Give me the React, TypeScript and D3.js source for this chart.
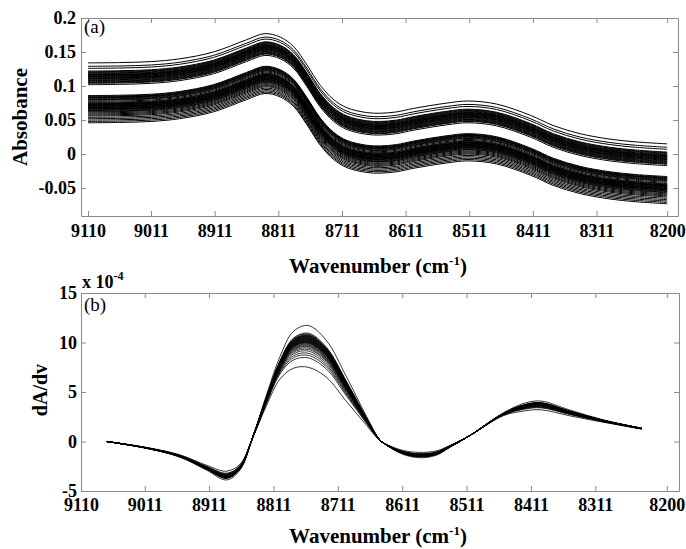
import { useEffect, useRef } from 'react'
import * as d3 from 'd3'

// panel (a): absorbance spectra, uppermost spectrum
const wavenumbers = [9110, 9060, 9010, 8966, 8913, 8861, 8832, 8808, 8787, 8766, 8745, 8724, 8703, 8672, 8651, 8625, 8599, 8546, 8513, 8468, 8415, 8379, 8337, 8290, 8250, 8200]
const topSpectrum = [0.134, 0.1345, 0.136, 0.14, 0.15, 0.168, 0.177, 0.172, 0.158, 0.131, 0.101, 0.08, 0.068, 0.061, 0.06, 0.062, 0.067, 0.075, 0.078, 0.0735, 0.057, 0.042, 0.03, 0.022, 0.018, 0.015]
// baseline offsets of every other spectrum below the uppermost one
const upperGroupOffsets = [0, 0.005, 0.008, 0.012, 0.013, 0.014, 0.015, 0.016, 0.017, 0.0175, 0.018, 0.019, 0.0195, 0.02, 0.021, 0.022, 0.0225, 0.023, 0.024, 0.025, 0.026, 0.027, 0.028, 0.029, 0.03, 0.032]
const lowerGroupOffsets = [0.048, 0.049, 0.05, 0.0505, 0.051, 0.052, 0.053, 0.054, 0.055, 0.0565, 0.058, 0.059, 0.06, 0.0605, 0.061, 0.0615, 0.062, 0.063, 0.0635, 0.064, 0.065, 0.0655, 0.066, 0.067, 0.0675, 0.068, 0.069, 0.07, 0.071, 0.072, 0.0735, 0.075, 0.0765, 0.078, 0.08, 0.082, 0.084, 0.086, 0.088]

// panel (b): first derivative (x 10^-4), weakest and strongest curves
const derivWavenumbers = [9070, 9008, 8956, 8915, 8884, 8863, 8843, 8822, 8801, 8780, 8757, 8729, 8697, 8666, 8646, 8635, 8610, 8584, 8558, 8537, 8506, 8454, 8420, 8395, 8351, 8299, 8239]
const derivLow = [0, -0.6, -1.35, -2.4, -3.0, -2.3, 0.4, 3.6, 6.3, 7.4, 7.5, 6.5, 4.0, 1.6, 0.1, -0.3, -0.9, -1.1, -0.95, -0.4, 0.6, 2.6, 3.1, 3.2, 2.6, 1.95, 1.25]
const derivHigh = [0, -0.7, -1.6, -2.9, -3.9, -2.9, 0.5, 4.7, 8.6, 11.2, 11.8, 10.3, 6.5, 2.5, 0.2, -0.4, -1.3, -1.65, -1.4, -0.6, 0.6, 2.9, 3.9, 4.1, 3.2, 2.2, 1.35]
// position of each curve between the weakest (0) and strongest (1)
const derivMix = [0, 0.22, 0.28, 0.33, 0.38, 0.42, 0.45, 0.48, 0.5, 0.52, 0.54, 0.56, 0.57, 0.58, 0.59, 0.6, 0.61, 0.62, 0.63, 0.64, 0.65, 0.66, 0.67, 0.68, 0.69, 0.7, 0.71, 0.72, 0.73, 0.74, 0.75, 0.76, 0.78, 0.8, 0.98]

const xTicks = [9110, 9011, 8911, 8811, 8711, 8611, 8511, 8411, 8311, 8200]
const yTicksA = [0.2, 0.15, 0.1, 0.05, 0, -0.05]
const yLabelsA = ['0.2', '0.15', '0.1', '0.05', '0', '-0.05']
const yTicksB = [15, 10, 5, 0, -5]
const yLabelsB = ['15', '10', '5', '0', '-5']

const W = 686
const H = 549
const FONT = 'Liberation Serif'
const GREY = '#8a8a8a'

export default function App() {
  const ref = useRef<SVGSVGElement>(null)

  useEffect(() => {
    if (!ref.current) return
    const svg = d3.select(ref.current)
    svg.selectAll('*').remove()
    svg.append('rect').attr('width', W).attr('height', H).attr('fill', '#fff')

    const frame = (x: any, y: any, yTicks: number[], yLabels: string[], xPad: number, yPad: number) => {
      const [x0, x1] = x.range()
      const [y0, y1] = y.range()
      const axes = [
        svg.append('g').attr('transform', `translate(0,${y0})`)
          .call(d3.axisBottom(x).tickValues(xTicks).tickFormat(d3.format('d')).tickSize(-5).tickSizeOuter(0).tickPadding(xPad)),
        svg.append('g').attr('transform', `translate(0,${y1})`)
          .call(d3.axisTop(x).tickValues(xTicks).tickFormat(() => '').tickSize(-5).tickSizeOuter(0)),
        svg.append('g').attr('transform', `translate(${x0},0)`)
          .call(d3.axisLeft(y).tickValues(yTicks).tickFormat((_, i) => yLabels[i]).tickSize(-5).tickSizeOuter(0).tickPadding(yPad)),
        svg.append('g').attr('transform', `translate(${x1},0)`)
          .call(d3.axisRight(y).tickValues(yTicks).tickFormat(() => '').tickSize(-5).tickSizeOuter(0)),
      ]
      axes.forEach((g) => {
        g.attr('font-family', FONT).attr('font-size', 18).attr('font-weight', 'bold')
        g.selectAll('path.domain').attr('stroke', GREY)
        g.selectAll('line').attr('stroke', GREY)
        g.selectAll('text').attr('fill', '#000').attr('font-family', FONT)
      })
    }

    const txt = (x: number, y: number, size: number, bold: boolean) =>
      svg.append('text').attr('x', x).attr('y', y).attr('font-family', FONT).attr('font-size', size)
        .attr('font-weight', bold ? 'bold' : 'normal')

    const xlabel = (y: number) => {
      const t = txt(378, y, 21, true).attr('text-anchor', 'middle')
      t.append('tspan').text('Wavenumber (cm')
      t.append('tspan').attr('font-size', 13).attr('dy', -8).text('-1')
      t.append('tspan').attr('dy', 8).text(')')
    }

    // (a)
    const xa = d3.scaleLinear().domain([9121, 8183]).range([81, 678])
    const ya = d3.scaleLinear().domain([-0.091, 0.2]).range([216, 18])
    const lineA = d3.line<number>()
      .x((_, i) => xa(wavenumbers[i]))
      .y((d) => ya(d))
      .curve(d3.curveCatmullRom.alpha(0.5))

    svg.append('g')
      .selectAll('path')
      .data([...upperGroupOffsets, ...lowerGroupOffsets])
      .join('path')
      .attr('d', (o) => lineA(topSpectrum.map((v) => v - o)))
      .attr('fill', 'none')
      .attr('stroke', '#000')
      .attr('stroke-width', 1)

    frame(xa, ya, yTicksA, yLabelsA, 8, 5)
    txt(84, 33, 19, false).text('(a)')
    txt(0, 0, 21, true).attr('transform', 'translate(27,117) rotate(-90)').attr('text-anchor', 'middle').text('Absobance')
    xlabel(273)

    // (b)
    const xb = d3.scaleLinear().domain([9110, 8181]).range([81, 679])
    const yb = d3.scaleLinear().domain([-5, 15]).range([491, 293])
    const lineB = d3.line<number>()
      .x((_, i) => xb(derivWavenumbers[i]))
      .y((d) => yb(d))
      .curve(d3.curveCatmullRom.alpha(0.5))

    svg.append('g')
      .selectAll('path')
      .data(derivMix)
      .join('path')
      .attr('d', (t) => lineB(derivLow.map((v, i) => v + t * (derivHigh[i] - v))))
      .attr('fill', 'none')
      .attr('stroke', '#000')
      .attr('stroke-width', 0.8)

    frame(xb, yb, yTicksB, yLabelsB, 7, 4)
    txt(84, 311, 19, false).text('(b)')
    const ex = txt(82, 288, 18, true)
    ex.append('tspan').text('x 10')
    ex.append('tspan').attr('font-size', 12).attr('dy', -8).text('-4')
    txt(0, 0, 20, true).attr('transform', 'translate(47,390) rotate(-90)').attr('text-anchor', 'middle').text('dA/dv')
    xlabel(543)
  }, [])

  return (
    <div style={{ position: 'absolute', left: 0, top: 0 }}>
      <svg ref={ref} width={W} height={H} />
    </div>
  )
}
